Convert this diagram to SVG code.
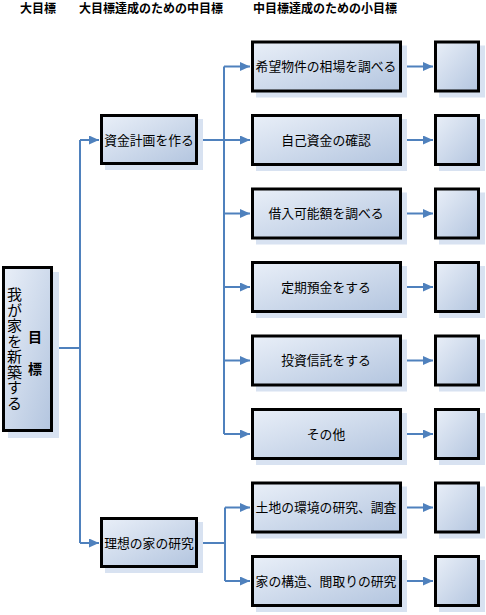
<svg xmlns="http://www.w3.org/2000/svg" width="486" height="615" viewBox="0 0 486 615">
<defs>
<linearGradient id="g" x1="0" y1="0" x2="1" y2="1">
<stop offset="0" stop-color="#e9eff8"/>
<stop offset="1" stop-color="#b3c5df"/>
</linearGradient>
<marker id="ah" markerUnits="userSpaceOnUse" markerWidth="11" markerHeight="9" refX="10" refY="4.5" orient="auto">
<path d="M0,0 L10,4.5 L0,9 z" fill="#4f81bd"/>
</marker>
<style>
.box{fill:url(#g);stroke:#000;stroke-width:3}
.sh{fill:#d8e2f1}
.t{font-family:"Liberation Sans","Noto Sans CJK JP",sans-serif;font-size:12.8px;fill:#000;text-anchor:middle;dominant-baseline:central}
.h{font-family:"Liberation Sans","Noto Sans CJK JP",sans-serif;font-size:12px;font-weight:bold;fill:#000;dominant-baseline:central}
.c{fill:none;stroke:#4f81bd;stroke-width:2}
.a{marker-end:url(#ah)}
</style>
</defs>
<rect width="486" height="615" fill="#fff"/>
<g id="headers">
<text class="h" x="20" y="9">大目標</text>
<text class="h" x="79" y="9">大目標達成のための中目標</text>
<text class="h" x="253" y="9">中目標達成のための小目標</text>
</g>
<g id="connectors">
<path class="c" d="M53,348 H80 M80,140 V543 M198,140 H224 M224,66.5 V434 M198,543 H225 M225,507.5 V581"/>
<path class="c a" d="M80,140 H99"/>
<path class="c a" d="M80,543 H99"/>
<path class="c a" d="M224,66.5 H250"/>
<path class="c a" d="M224,140 H250"/>
<path class="c a" d="M224,213.5 H250"/>
<path class="c a" d="M224,287 H250"/>
<path class="c a" d="M224,360.5 H250"/>
<path class="c a" d="M224,434 H250"/>
<path class="c a" d="M225,507.5 H250"/>
<path class="c a" d="M225,581 H250"/>
<path class="c a" d="M402,66.5 H433"/>
<path class="c a" d="M402,140 H433"/>
<path class="c a" d="M402,213.5 H433"/>
<path class="c a" d="M402,287 H433"/>
<path class="c a" d="M402,360.5 H433"/>
<path class="c a" d="M402,434 H433"/>
<path class="c a" d="M402,507.5 H433"/>
<path class="c a" d="M402,581 H433"/>
</g>
<g id="goal">
<rect class="sh" x="8" y="272" width="51" height="166"/>
<rect class="box" x="3.5" y="267.5" width="48" height="163"/>
<text class="t" x="13.5" y="287" style="writing-mode:vertical-rl;text-anchor:start;font-size:15px;letter-spacing:0.5px">我が家を新築する</text>
<text class="h" x="35" y="337" text-anchor="middle" style="font-size:14px">目</text>
<text class="h" x="35" y="369" text-anchor="middle" style="font-size:14px">標</text>
</g>
<g id="mid1">
<rect class="sh" x="105" y="119" width="98" height="51"/>
<rect class="box" x="101.5" y="115.5" width="95" height="48"/>
<text class="t" x="149" y="140">資金計画を作る</text>
</g>
<g id="mid2">
<rect class="sh" x="105" y="522" width="98" height="51"/>
<rect class="box" x="101.5" y="518.5" width="95" height="48"/>
<text class="t" x="149" y="543">理想の家の研究</text>
</g>
<g id="s1">
<rect class="sh" x="256" y="45.5" width="151" height="52"/>
<rect class="box" x="252.5" y="42" width="148" height="49"/>
<text class="t" x="326" y="66.5">希望物件の相場を調べる</text>
</g>
<g id="s2">
<rect class="sh" x="256" y="119" width="151" height="52"/>
<rect class="box" x="252.5" y="115.5" width="148" height="49"/>
<text class="t" x="326" y="140">自己資金の確認</text>
</g>
<g id="s3">
<rect class="sh" x="256" y="192.5" width="151" height="52"/>
<rect class="box" x="252.5" y="189" width="148" height="49"/>
<text class="t" x="326" y="213.5">借入可能額を調べる</text>
</g>
<g id="s4">
<rect class="sh" x="256" y="266" width="151" height="52"/>
<rect class="box" x="252.5" y="262.5" width="148" height="49"/>
<text class="t" x="326" y="287">定期預金をする</text>
</g>
<g id="s5">
<rect class="sh" x="256" y="339.5" width="151" height="52"/>
<rect class="box" x="252.5" y="336" width="148" height="49"/>
<text class="t" x="326" y="360.5">投資信託をする</text>
</g>
<g id="s6">
<rect class="sh" x="256" y="413" width="151" height="52"/>
<rect class="box" x="252.5" y="409.5" width="148" height="49"/>
<text class="t" x="326" y="434">その他</text>
</g>
<g id="s7">
<rect class="sh" x="256" y="486.5" width="151" height="52"/>
<rect class="box" x="252.5" y="483" width="148" height="49"/>
<text class="t" x="326" y="507.5">土地の環境の研究、調査</text>
</g>
<g id="s8">
<rect class="sh" x="256" y="560" width="151" height="52"/>
<rect class="box" x="252.5" y="556.5" width="148" height="49"/>
<text class="t" x="326" y="581">家の構造、間取りの研究</text>
</g>
<g id="r1"><rect class="sh" x="439" y="45.5" width="46" height="52"/><rect class="box" x="435.5" y="42" width="43" height="49"/></g>
<g id="r2"><rect class="sh" x="439" y="119" width="46" height="52"/><rect class="box" x="435.5" y="115.5" width="43" height="49"/></g>
<g id="r3"><rect class="sh" x="439" y="192.5" width="46" height="52"/><rect class="box" x="435.5" y="189" width="43" height="49"/></g>
<g id="r4"><rect class="sh" x="439" y="266" width="46" height="52"/><rect class="box" x="435.5" y="262.5" width="43" height="49"/></g>
<g id="r5"><rect class="sh" x="439" y="339.5" width="46" height="52"/><rect class="box" x="435.5" y="336" width="43" height="49"/></g>
<g id="r6"><rect class="sh" x="439" y="413" width="46" height="52"/><rect class="box" x="435.5" y="409.5" width="43" height="49"/></g>
<g id="r7"><rect class="sh" x="439" y="486.5" width="46" height="52"/><rect class="box" x="435.5" y="483" width="43" height="49"/></g>
<g id="r8"><rect class="sh" x="439" y="560" width="46" height="52"/><rect class="box" x="435.5" y="556.5" width="43" height="49"/></g>
</svg>
